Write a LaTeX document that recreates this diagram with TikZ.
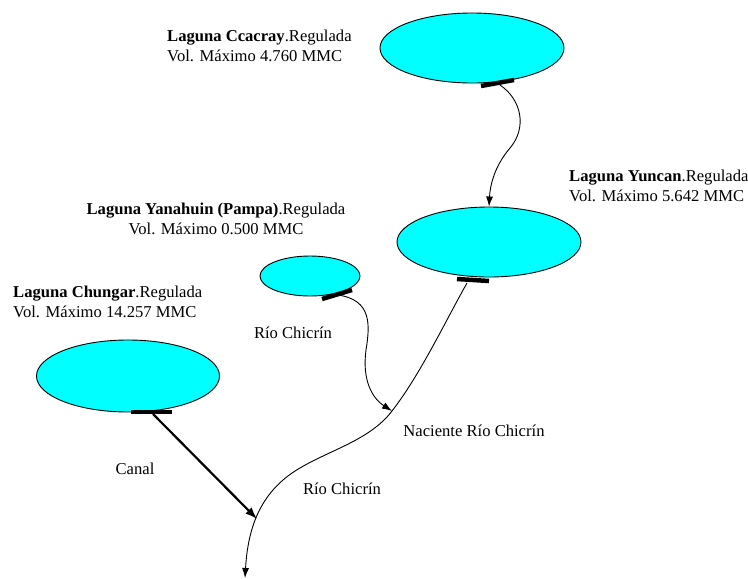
\documentclass[tikz,border=0pt]{standalone}
\usepackage{fontspec}
\setmainfont{Liberation Serif}
\usetikzlibrary{shapes.geometric,arrows.meta}
\definecolor{lake}{RGB}{0,255,255}
\tikzset{
  lago/.style={ellipse,draw=black,line width=0.9pt,fill=lake,inner sep=0pt},
  salida/.style={line width=4.5pt,line cap=butt},
  rio/.style={line width=0.9pt,-{Latex[length=10pt,width=7pt]}},
  canal/.style={line width=2.2pt,-{Latex[length=12pt,width=9pt]}},
  lbl/.style={font=\fontsize{16.6}{20}\selectfont,inner sep=0pt},
}
\begin{document}
\begin{tikzpicture}[x=1pt,y=-1pt]
\useasboundingbox (0,0) rectangle (748,579);
% lakes
\node[lago,minimum width=184pt,minimum height=70pt] (ccacray) at (472,48) {};
\node[lago,minimum width=184pt,minimum height=70pt] (yuncan) at (489,242) {};
\node[lago,minimum width=100pt,minimum height=40pt] (yanahuin) at (310,276) {};
\node[lago,minimum width=183pt,minimum height=72pt] (chungar) at (128,376) {};
% outlets
\coordinate (cbA) at (481,86); \coordinate (cbB) at (514,80);
\coordinate (ybA) at (457,279); \coordinate (ybB) at (489,281);
\coordinate (pbA) at (322,299); \coordinate (pbB) at (352,290);
\coordinate (hbA) at (131,412); \coordinate (hbB) at (172,412);
\draw[salida] (cbA) -- (cbB);
\draw[salida] (ybA) -- (ybB);
\draw[salida] (pbA) -- (pbB);
\draw[salida] (hbA) -- (hbB);
\coordinate (cout) at (500,85);
\coordinate (yout) at (467,283);
\coordinate (pout) at (338,295);
\coordinate (hout) at (153,414);
\coordinate (naciente) at (392,411);
\coordinate (confl) at (257,519);
\coordinate (fin) at (245,578);
% rivers
\draw[rio] (cout) .. controls (522,100) and (527,128) .. (510,148)
  .. controls (493,168) and (490,188) .. (yuncan.north);
\draw[rio] (pout) .. controls (372,300) and (370,325) .. (366,350)
  .. controls (362,380) and (372,398) .. (naciente);
\draw[rio] (yout) .. controls (445,322) and (420,375) .. (naciente)
  .. controls (370,440) and (330,450) .. (300,468)
  .. controls (262,490) and (248,525) .. (fin);
\draw[canal] (hout) -- (confl);
% labels
\node[lbl,anchor=west,align=left] (tccacray) at (167,46)
  {\textbf{Laguna Ccacray}.Regulada\\Vol. Máximo 4.760 MMC};
\node[lbl,anchor=west,align=left] (tyuncan) at (569,186)
  {\textbf{Laguna Yuncan}.Regulada\\Vol. Máximo 5.642 MMC};
\node[lbl,align=center] (tyanahuin) at (216,219)
  {\textbf{Laguna Yanahuin (Pampa)}.Regulada\\Vol. Máximo 0.500 MMC};
\node[lbl,anchor=west,align=left] (tchungar) at (13,302)
  {\textbf{Laguna Chungar}.Regulada\\Vol. Máximo 14.257 MMC};
\node[lbl] (trio1) at (293,333) {Río Chicrín};
\node[lbl] (tnac) at (474,431) {Naciente Río Chicrín};
\node[lbl] (tcanal) at (135,469) {Canal};
\node[lbl] (trio2) at (342,489) {Río Chicrín};
\end{tikzpicture}
\end{document}
